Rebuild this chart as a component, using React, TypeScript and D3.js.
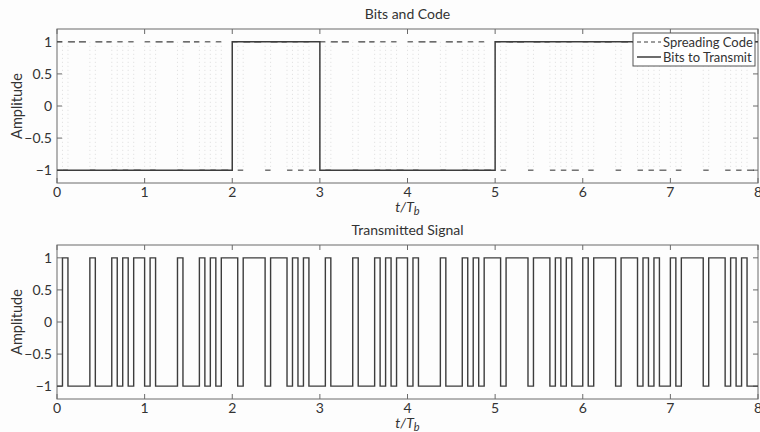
import React, { useEffect, useRef } from 'react';
import * as d3 from 'd3';

// one value per bit period, t/Tb = 0..7
const bitsToTransmit = [-1, -1, 1, -1, -1, 1, 1, 1];
const chipsPerBit = 16;

// spreading code, one value per chip (16 chips per bit)
const spreadingCode = [
  1, -1, 1, 1, 1, 1, -1, 1, 1, 1, -1, 1, -1, 1, -1, -1,
  1, -1, 1, 1, 1, 1, -1, 1, 1, 1, -1, 1, -1, 1, -1, -1,
  1, -1, 1, 1, 1, 1, -1, 1, 1, 1, -1, 1, -1, 1, -1, -1,
  1, -1, 1, 1, 1, 1, -1, 1, 1, 1, -1, 1, -1, 1, -1, -1,
  1, -1, 1, 1, 1, 1, -1, 1, 1, 1, -1, 1, -1, 1, -1, -1,
  1, -1, 1, 1, 1, 1, -1, 1, 1, 1, -1, 1, -1, 1, -1, -1,
  1, -1, 1, 1, 1, 1, -1, 1, 1, 1, -1, 1, -1, 1, -1, -1,
  1, -1, 1, 1, 1, 1, -1, 1, 1, 1, -1, 1, -1, 1, -1, -1,
];

// transmitted chips
const transmittedSignal = [
  -1, 1, -1, -1, -1, -1, 1, -1, -1, -1, 1, -1, 1, -1, 1, 1,
  -1, 1, -1, -1, -1, -1, 1, -1, -1, -1, 1, -1, 1, -1, 1, 1,
  1, -1, 1, 1, 1, 1, -1, 1, 1, 1, -1, 1, -1, 1, -1, -1,
  -1, 1, -1, -1, -1, -1, 1, -1, -1, -1, 1, -1, 1, -1, 1, 1,
  -1, 1, -1, -1, -1, -1, 1, -1, -1, -1, 1, -1, 1, -1, 1, 1,
  1, -1, 1, 1, 1, 1, -1, 1, 1, 1, -1, 1, -1, 1, -1, -1,
  1, -1, 1, 1, 1, 1, -1, 1, 1, 1, -1, 1, -1, 1, -1, -1,
  1, -1, 1, 1, 1, 1, -1, 1, 1, 1, -1, 1, -1, 1, -1, -1,
];

const xTicks = [0, 1, 2, 3, 4, 5, 6, 7, 8];
const yTicks = [1, 0.5, 0, -0.5, -1];
const yTickLabels = ['1', '0.5', '0', '\u22120.5', '\u22121'];
const legendLabels = ['Spreading Code', 'Bits to Transmit'];

export default function App() {
  const ref = useRef<SVGSVGElement>(null);

  useEffect(() => {
    if (!ref.current) return;
    const width = 760;
    const height = 432;
    const font = 'Lato, "Open Sans", sans-serif';
    const lineColor = '#3d3d3d';
    const axisColor = '#6a6a6a';

    const svg = d3.select(ref.current);
    svg.selectAll('*').remove();
    svg.append('rect').attr('width', width).attr('height', height).attr('fill', '#fdfdfd');

    const x = d3.scaleLinear().domain([0, 8]).range([57, 758]);
    const nBits = bitsToTransmit.length;

    const panel = (top: number, bottom: number, title: string) => {
      const y = d3.scaleLinear().domain([-1.2, 1.2]).range([bottom, top]);
      const g = svg.append('g');
      const [x0, x1] = x.range();

      g.append('text')
        .attr('x', (x0 + x1) / 2)
        .attr('y', top - 10)
        .attr('text-anchor', 'middle')
        .attr('font-family', font)
        .attr('font-size', 14)
        .attr('fill', '#333')
        .text(title);

      g.append('rect')
        .attr('x', x0).attr('y', top)
        .attr('width', x1 - x0).attr('height', bottom - top)
        .attr('fill', 'none').attr('stroke', axisColor).attr('stroke-width', 1);

      xTicks.forEach(t => {
        g.append('line').attr('x1', x(t)).attr('x2', x(t)).attr('y1', bottom).attr('y2', bottom - 5)
          .attr('stroke', axisColor);
        g.append('line').attr('x1', x(t)).attr('x2', x(t)).attr('y1', top).attr('y2', top + 5)
          .attr('stroke', axisColor);
        g.append('text')
          .attr('x', x(t)).attr('y', bottom + 14)
          .attr('text-anchor', 'middle')
          .attr('font-family', font).attr('font-size', 14).attr('fill', '#333')
          .text(String(t));
      });

      yTicks.forEach((v, i) => {
        g.append('line').attr('x1', x0).attr('x2', x0 + 5).attr('y1', y(v)).attr('y2', y(v))
          .attr('stroke', axisColor);
        g.append('line').attr('x1', x1).attr('x2', x1 - 5).attr('y1', y(v)).attr('y2', y(v))
          .attr('stroke', axisColor);
        g.append('text')
          .attr('x', x0 - 5).attr('y', y(v) + 5)
          .attr('text-anchor', 'end')
          .attr('font-family', font).attr('font-size', 14).attr('fill', '#333')
          .text(yTickLabels[i]);
      });

      const xl = g.append('text')
        .attr('x', (x0 + x1) / 2).attr('y', bottom + 29)
        .attr('text-anchor', 'middle')
        .attr('font-family', font).attr('font-size', 14).attr('fill', '#333');
      xl.append('tspan').attr('font-style', 'italic').text('t/T');
      xl.append('tspan').attr('font-style', 'italic').attr('font-size', 11).attr('dy', 3).text('b');

      g.append('text')
        .attr('transform', `translate(22,${(top + bottom) / 2}) rotate(-90)`)
        .attr('text-anchor', 'middle')
        .attr('font-family', font).attr('font-size', 14.5).attr('fill', '#333')
        .text('Amplitude');

      return { g, y };
    };

    // ---- top panel: bits and code
    const topP = panel(29, 183, 'Bits and Code');
    const yT = topP.y;
    const chipT = (i: number) => i / chipsPerBit;

    // code: horizontal runs dashed, vertical transitions faint
    const runs: { a: number; b: number; v: number }[] = [];
    spreadingCode.forEach((v, i) => {
      const last = runs[runs.length - 1];
      if (last && last.v === v) last.b = i + 1;
      else runs.push({ a: i, b: i + 1, v });
    });
    topP.g.selectAll('line.code-h')
      .data(runs)
      .enter()
      .append('line')
      .attr('class', 'code-h')
      .attr('x1', d => x(chipT(d.a))).attr('x2', d => x(chipT(d.b)))
      .attr('y1', d => yT(d.v)).attr('y2', d => yT(d.v))
      .attr('stroke', lineColor).attr('stroke-width', 1.1)
      .attr('stroke-dasharray', '7,4');
    topP.g.selectAll('line.code-v')
      .data(runs.slice(1))
      .enter()
      .append('line')
      .attr('class', 'code-v')
      .attr('x1', d => x(chipT(d.a))).attr('x2', d => x(chipT(d.a)))
      .attr('y1', yT(1)).attr('y2', yT(-1))
      .attr('stroke', '#d6d6d6').attr('stroke-width', 0.8)
      .attr('stroke-dasharray', '1,3');

    const bitPts: [number, number][] = bitsToTransmit.map((v, i) => [i, v]);
    bitPts.push([nBits, bitsToTransmit[nBits - 1]]);
    const step = d3.line<[number, number]>()
      .x(d => x(d[0]))
      .curve(d3.curveStepAfter);

    topP.g.append('path')
      .attr('d', step.y(d => yT(d[1]))(bitPts))
      .attr('fill', 'none').attr('stroke', lineColor).attr('stroke-width', 1.5);

    // legend
    const lg = topP.g.append('g').attr('transform', 'translate(633,33)');
    lg.append('rect').attr('width', 122).attr('height', 33)
      .attr('fill', '#fff').attr('stroke', '#555').attr('stroke-width', 1);
    legendLabels.forEach((lab, i) => {
      const ly = 9 + i * 15;
      lg.append('line').attr('x1', 4).attr('x2', 28).attr('y1', ly).attr('y2', ly)
        .attr('stroke', lineColor).attr('stroke-width', i === 0 ? 1.1 : 1.5)
        .attr('stroke-dasharray', i === 0 ? '4,3' : null);
      lg.append('text').attr('x', 30).attr('y', ly + 4.5)
        .attr('font-family', font).attr('font-size', 13).attr('fill', '#333')
        .text(lab);
    });

    // ---- bottom panel: transmitted signal
    const botP = panel(245, 399, 'Transmitted Signal');
    const yB = botP.y;
    const txPts: [number, number][] = transmittedSignal.map((v, i) => [chipT(i), v]);
    txPts.push([nBits, transmittedSignal[transmittedSignal.length - 1]]);
    botP.g.append('path')
      .attr('d', step.y(d => yB(d[1]))(txPts))
      .attr('fill', 'none').attr('stroke', lineColor).attr('stroke-width', 1.4);
  }, []);

  return (
    <svg ref={ref} width={760} height={432} style={{ position: 'absolute', left: 0, top: 0 }} />
  );
}
